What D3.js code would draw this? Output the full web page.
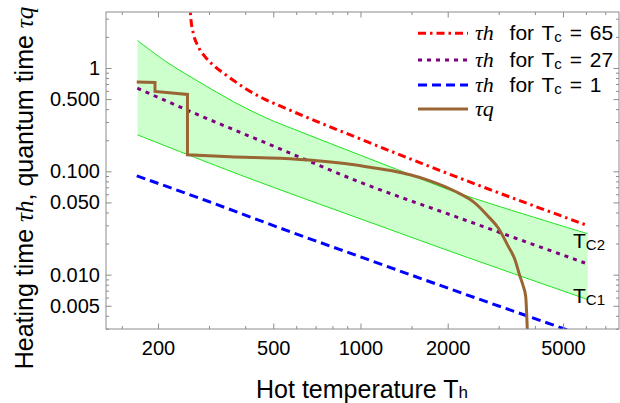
<!DOCTYPE html>
<html>
<head>
<meta charset="utf-8">
<script src="https://cdn.jsdelivr.net/npm/d3@7"></script>
<style>
  body { margin: 0; background: #fff; }
  svg { display: block; }
</style>
</head>
<body>
<div id="chart"></div>
<script>
// values, each point is [Th, time]
const tauH65 = [[257, 4.5], [260, 2.91], [264.8, 2.16], [275.5, 1.606], [290.6, 1.286], [314.7, 1.029],
  [349.8, 0.824], [399.5, 0.637], [456, 0.515], [527.6, 0.4294], [1020, 0.2006], [1984, 0.0961], [6116, 0.0297]];
const tauH27 = [[169.7, 0.637], [254.5, 0.387], [527.6, 0.165], [982.7, 0.0797], [2120, 0.0366], [5957, 0.01297]];
const tauH1 = [[168.9, 0.0905], [297.6, 0.0513], [527.6, 0.02827], [1053, 0.01412], [2120, 0.007],
  [5081, 0.002975], [6101, 0.00249]];
const tc2Edge = [[169.9, 1.844], [214.3, 1.143], [279.3, 0.7245], [363.9, 0.4725], [474.8, 0.3266],
  [618.3, 0.2424], [1462, 0.0946], [2120, 0.0631], [6087, 0.0249]];
const tc1Edge = [[169.9, 0.2253], [345.3, 0.1034], [527.6, 0.0663], [1053, 0.0329], [2120, 0.0162], [6087, 0.00574]];
const tauQSteps = [[168.9, 0.7324], [195.3, 0.7245], [195.3, 0.5929], [252.8, 0.5546], [252.8, 0.1444]];
const tauQ = [[252.8, 0.1444], [354.4, 0.138], [527.6, 0.1336], [896.4, 0.1181], [1078, 0.1093], [1285, 0.1011],
  [1482, 0.0925], [1738, 0.0809], [2120, 0.0641], [2485, 0.0493], [2762, 0.0366], [2990, 0.02827],
  [3237, 0.01877], [3414, 0.01396], [3553, 0.00963], [3648, 0.0077], [3718, 0.00617], [3748, 0.00411],
  [3772, 0.0026]];

const xMajor = [200, 500, 1000, 2000, 5000];
const xMinor = [150, 300, 400, 600, 700, 800, 900, 1500, 3000, 4000, 6000, 7000];
const yMajor = [1, 0.5, 0.1, 0.05, 0.01, 0.005];
const yMajorText = ["1", "0.500", "0.100", "0.050", "0.010", "0.005"];
const yMinor = [3, 2, 0.9, 0.8, 0.7, 0.6, 0.4, 0.3, 0.2, 0.09, 0.08, 0.07, 0.06, 0.04, 0.03, 0.02,
  0.009, 0.008, 0.007, 0.006, 0.004, 0.003];
const tcValues = ["65", "27", "1"];

const W = 620, H = 403;
const frame = { left: 106, right: 619, top: 12, bottom: 329 };

const x = d3.scaleLog().domain([132.3, 7805]).range([frame.left, frame.right]);
const y = d3.scaleLog().domain([0.00298, 3.48]).range([frame.bottom, frame.top]);

const svg = d3.select("#chart").append("svg")
  .attr("width", W)
  .attr("height", H)
  .attr("font-family", "'Liberation Sans', Arial, sans-serif");

svg.append("defs").append("clipPath").attr("id", "plot")
  .append("rect")
  .attr("x", frame.left)
  .attr("y", frame.top)
  .attr("width", frame.right - frame.left)
  .attr("height", frame.bottom - frame.top);

const plot = svg.append("g").attr("clip-path", "url(#plot)");

const smooth = d3.line().x((d) => x(d[0])).y((d) => y(d[1])).curve(d3.curveMonotoneX);
const spline = d3.line().x((d) => x(d[0])).y((d) => y(d[1])).curve(d3.curveCatmullRom);
const straight = d3.line().x((d) => x(d[0])).y((d) => y(d[1]));

// green band between the two edges
let upper = spline(tc2Edge);
let lower = spline(tc1Edge.slice().reverse());
plot.append("path")
  .attr("d", upper + "L" + lower.slice(1) + "Z")
  .attr("fill", "#ccffcc");
[tc2Edge, tc1Edge].forEach((edge) => {
  plot.append("path")
    .attr("d", spline(edge))
    .attr("fill", "none")
    .attr("stroke", "#1de21d")
    .attr("stroke-width", 1);
});

let series = [
  { color: "#ff0000", dash: "8,4,2.5,4", d: smooth(tauH65) },
  { color: "#800080", dash: "4,5", d: smooth(tauH27) },
  { color: "#0000ff", dash: "9,5", d: smooth(tauH1) },
  { color: "#996633", dash: null, d: straight(tauQSteps) + smooth(tauQ).replace("M", "L") },
];

series.forEach((s) => {
  plot.append("path")
    .attr("d", s.d)
    .attr("fill", "none")
    .attr("stroke", s.color)
    .attr("stroke-width", 3)
    .attr("stroke-dasharray", s.dash);
});

// frame and ticks (pointing inwards, mirrored on top and right)
svg.append("rect")
  .attr("x", frame.left)
  .attr("y", frame.top)
  .attr("width", frame.right - frame.left)
  .attr("height", frame.bottom - frame.top)
  .attr("fill", "none")
  .attr("stroke", "#8c8c8c");

function ticks(axis, tx, ty, values, size, labels, pad) {
  let g = svg.append("g")
    .attr("transform", `translate(${tx},${ty})`)
    .call(axis
      .tickValues(values)
      .tickSizeInner(-size)
      .tickSizeOuter(0)
      .tickPadding(pad || 6)
      .tickFormat(labels || (() => "")));
  g.attr("color", "#8c8c8c")
    .attr("font-family", null)
    .attr("font-size", 20);
  g.select(".domain").remove();
  g.selectAll("text").attr("fill", "#000");
}

ticks(d3.axisBottom(x), 0, frame.bottom, xMajor, 5.5, (d) => d3.format("d")(d), 12);
ticks(d3.axisBottom(x), 0, frame.bottom, xMinor, 3);
ticks(d3.axisTop(x), 0, frame.top, xMajor, 5.5);
ticks(d3.axisTop(x), 0, frame.top, xMinor, 3);
ticks(d3.axisLeft(y), frame.left, 0, yMajor, 5.5, (d, i) => yMajorText[i], 6);
ticks(d3.axisLeft(y), frame.left, 0, yMinor, 3);
ticks(d3.axisRight(y), frame.right, 0, yMajor, 5.5);
ticks(d3.axisRight(y), frame.right, 0, yMinor, 3);

// band labels
[["C2", 248], ["C1", 303]].forEach(([sub, by]) => {
  let t = svg.append("text").attr("x", 573).attr("y", by).attr("font-size", 21).text("T");
  t.append("tspan").attr("font-size", 15).attr("dy", 2).text(sub);
});

// legend
const legendY = [33.3, 60, 85, 109];
series.forEach((s, i) => {
  let ly = legendY[i];
  svg.append("line")
    .attr("x1", 418).attr("x2", 468)
    .attr("y1", ly).attr("y2", ly)
    .attr("stroke", s.color)
    .attr("stroke-width", 3)
    .attr("stroke-dasharray", s.dash);
  let t = svg.append("text")
    .attr("x", 475).attr("y", ly + 7)
    .attr("font-size", 21)
    .attr("word-spacing", 2)
    .style("white-space", "pre");
  t.append("tspan")
    .attr("font-family", "'Liberation Serif', serif")
    .attr("font-style", "italic")
    .attr("font-size", 22)
    .text(i < 3 ? "τh" : "τq");
  if (i < 3) {
    t.append("tspan").text("  for T");
    t.append("tspan").attr("font-size", 15).attr("dy", 2).text("c");
    t.append("tspan").attr("dy", -2).text(" = " + tcValues[i]);
  }
});

// axis titles
let xt = svg.append("text")
  .attr("x", 362).attr("y", 398)
  .attr("text-anchor", "middle")
  .attr("font-size", 25)
  .text("Hot temperature T");
xt.append("tspan").attr("font-size", 17).text("h");

let yt = svg.append("text")
  .attr("transform", "translate(33,188) rotate(-90)")
  .attr("text-anchor", "middle")
  .attr("font-size", 25);
yt.append("tspan").text("Heating time ");
yt.append("tspan").attr("font-family", "'Liberation Serif', serif").attr("font-style", "italic").text("τh");
yt.append("tspan").text(", quantum time ");
yt.append("tspan").attr("font-family", "'Liberation Serif', serif").attr("font-style", "italic").text("τq");
</script>
</body>
</html>
